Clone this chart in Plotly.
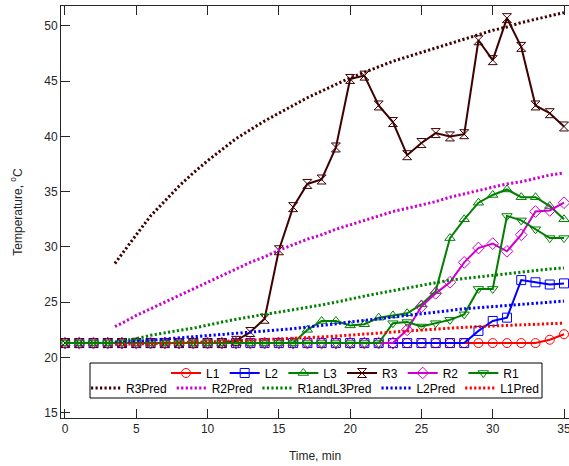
import plotly.graph_objects as go

# ---- data ----
t = list(range(36))
L1 = [21.3]*34 + [21.6, 22.1]
L2 = [21.3]*29 + [22.4, 23.3, 23.6, 27.0, 26.8, 26.6, 26.7]
L3 = [21.3]*17 + [22.5, 23.3, 23.3, 22.9, 23.0, 23.6, 23.8, 24.0, 24.8, 26.0,
                  30.8, 32.5, 34.0, 34.7, 35.2, 34.5, 34.5, 33.7, 32.5]
R3 = [21.3]*12 + [21.5, 22.3, 23.5, 29.7, 33.6, 35.7, 36.1, 39.0, 45.2, 45.5,
                  42.8, 41.3, 38.3, 39.4, 40.3, 40.0, 40.2, 48.7, 46.9, 50.7,
                  48.1, 42.8, 42.1, 40.9]
R2 = [21.3]*24 + [22.5, 24.6, 25.8, 26.8, 28.6, 29.9, 30.3, 29.6, 31.1, 33.2,
                  33.3, 34.0]
R1 = [21.3]*23 + [23.1, 23.2, 22.8, 23.1, 23.4, 23.9, 26.2, 26.2, 32.8, 32.4,
                  31.6, 30.8, 30.8]

tp = [3.5] + list(range(4, 36))
R3Pred = [28.5, 29.4, 31.1, 32.8, 34.2, 35.5, 36.7, 37.8, 38.8, 39.8, 40.6,
          41.4, 42.1, 42.8, 43.5, 44.1, 44.7, 45.3, 45.8, 46.3, 46.8, 47.2,
          47.6, 48.0, 48.4, 48.8, 49.2, 49.6, 49.9, 50.3, 50.6, 50.9, 51.2]
R2Pred = [22.8, 23.1, 23.8, 24.4, 25.0, 25.6, 26.2, 26.8, 27.4, 28.0, 28.6,
          29.1, 29.7, 30.2, 30.7, 31.1, 31.6, 32.0, 32.4, 32.8, 33.2, 33.5,
          33.8, 34.1, 34.5, 34.8, 35.1, 35.4, 35.7, 35.9, 36.2, 36.5, 36.7]
R1andL3Pred = [21.4, 21.5, 21.7, 22.0, 22.25, 22.45, 22.65, 22.95, 23.2, 23.45,
               23.7, 23.9, 24.1, 24.3, 24.5, 24.75, 25.0, 25.3, 25.55, 25.8,
               26.05, 26.3, 26.55, 26.8, 27.0, 27.15, 27.3, 27.45, 27.6, 27.75,
               27.85, 28.0, 28.1]
L2Pred = [21.3, 21.35, 21.45, 21.55, 21.7, 21.8, 21.9, 22.0, 22.1, 22.2, 22.3,
          22.4, 22.5, 22.6, 22.75, 22.9, 23.05, 23.2, 23.4, 23.55, 23.7, 23.85,
          24.0, 24.15, 24.3, 24.4, 24.5, 24.6, 24.7, 24.8, 24.9, 25.0, 25.1]
L1Pred = [21.2, 21.2, 21.22, 21.25, 21.28, 21.3, 21.35, 21.4, 21.45, 21.5,
          21.55, 21.6, 21.65, 21.7, 21.78, 21.85, 21.93, 22.0, 22.1, 22.2,
          22.3, 22.4, 22.5, 22.58, 22.65, 22.72, 22.8, 22.85, 22.9, 22.95,
          23.0, 23.05, 23.1]

xticks = [0, 5, 10, 15, 20, 25, 30, 35]
yticks = [15, 20, 25, 30, 35, 40, 45, 50]

RED, BLUE, GREEN, BROWN, MAG = '#ff0000', '#0000ff', '#007f00', '#3f0000', '#cc00cc'
FONT = 'Liberation Sans, Arial, sans-serif'

fig = go.Figure()

series = [
    ('L1', L1, RED, 'circle-open'),
    ('L2', L2, BLUE, 'square-open'),
    ('L3', L3, GREEN, 'triangle-up-open'),
    ('R3', R3, BROWN, 'hourglass-open'),
    ('R2', R2, MAG, 'diamond-open'),
    ('R1', R1, GREEN, 'triangle-down-open'),
]
for name, y, c, sym in series:
    fig.add_trace(go.Scatter(
        x=t, y=y, name=name, mode='lines+markers', legend='legend',
        line=dict(color=c, width=2),
        marker=dict(symbol=sym, size=9, color=c, line=dict(color=c, width=1)),
    ))

preds = [
    ('R3Pred', R3Pred, BROWN),
    ('R2Pred', R2Pred, MAG),
    ('R1andL3Pred', R1andL3Pred, GREEN),
    ('L2Pred', L2Pred, BLUE),
    ('L1Pred', L1Pred, RED),
]
for name, y, c in preds:
    fig.add_trace(go.Scatter(
        x=tp, y=y, name=name, mode='lines', legend='legend2',
        line=dict(color=c, width=3, dash='2.2px,2.3px'),
    ))

W, H = 569, 466
ml, mr, mt, mb = 61, 0, 6, 48
pw, ph = W - ml - mr, H - mt - mb

def px(xp):
    return (xp - ml) / pw

def py(yp):
    return (H - mb - yp) / ph

axis_common = dict(showgrid=False, zeroline=False, ticks='inside', ticklen=9,
                   tickcolor='#262626', tickwidth=1, automargin=False,
                   ticklabeloverflow='allow',
                   tickfont=dict(family=FONT, size=12, color='#262626'))

fig.update_layout(
    width=W, height=H,
    margin=dict(l=ml, r=mr, t=mt, b=mb, autoexpand=False),
    paper_bgcolor='white', plot_bgcolor='white',
    font=dict(family=FONT, size=12, color='#262626'),
    xaxis=dict(range=[-0.28, 35.35], tickvals=xticks, showline=True,
               linecolor='#262626', linewidth=1, mirror='ticks',
               title=dict(text='Time, min', font=dict(size=12), standoff=16),
               **axis_common),
    yaxis=dict(range=[14.52, 51.8], tickvals=yticks, showline=True,
               linecolor='#262626', linewidth=1,
               title=dict(text='Temperature, <sup>o</sup>C', font=dict(size=12),
                          standoff=19),
               **axis_common),
    yaxis2=dict(range=[14.52, 51.8], tickvals=yticks, overlaying='y',
                side='right', showticklabels=False, showline=False,
                **axis_common),
    legend=dict(orientation='h', x=px(166), y=py(373), xanchor='left',
                yanchor='middle', bgcolor='rgba(0,0,0,0)', borderwidth=0,
                font=dict(family=FONT, size=12, color='#000000'),
                tracegroupgap=0),
    legend2=dict(orientation='h', x=px(86), y=py(388), xanchor='left',
                 yanchor='middle', bgcolor='rgba(0,0,0,0)', borderwidth=0,
                 font=dict(family=FONT, size=12, color='#000000'),
                 tracegroupgap=0),
    shapes=[dict(type='rect', xref='paper', yref='paper',
                 x0=px(90), x1=px(542), y0=py(398), y1=py(363),
                 line=dict(color='#000000', width=1), fillcolor='white',
                 layer='above')],
)

fig.write_html('out.html',
               config={'displayModeBar': False},
               post_script="document.body.style.margin='0';"
                           "document.body.style.overflow='hidden';")
